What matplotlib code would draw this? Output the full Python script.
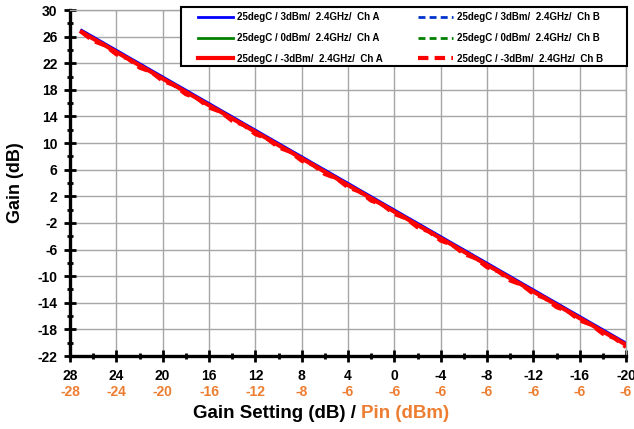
import matplotlib.pyplot as plt
from matplotlib.patches import Rectangle

plt.rcParams['font.family'] = ['Liberation Sans', 'DejaVu Sans']
plt.rcParams['font.weight'] = 'bold'
plt.rcParams['axes.unicode_minus'] = False

# gain setting (dB), 1 dB steps
gain_setting = [27, 26, 25, 24, 23, 22, 21, 20, 19, 18, 17, 16, 15, 14, 13, 12,
                11, 10, 9, 8, 7, 6, 5, 4, 3, 2, 1, 0, -1, -2, -3, -4, -5, -6,
                -7, -8, -9, -10, -11, -12, -13, -14, -15, -16, -17, -18, -19, -20]

gain_3dbm_a = [26.95, 25.96, 24.95, 23.96, 22.95, 21.96, 20.95, 19.96, 18.95, 17.96,
               16.95, 15.96, 14.95, 13.96, 12.95, 11.96, 10.95, 9.96, 8.95, 7.96,
               6.95, 5.96, 4.95, 3.96, 2.95, 1.96, 0.95, -0.04, -1.05, -2.04,
               -3.05, -4.04, -5.05, -6.04, -7.05, -8.04, -9.05, -10.04, -11.05, -12.04,
               -13.05, -14.04, -15.05, -16.04, -17.05, -18.04, -19.05, -20.04]
gain_0dbm_a = [26.8, 25.8, 24.8, 23.8, 22.8, 21.8, 20.8, 19.8, 18.8, 17.8,
               16.8, 15.8, 14.8, 13.8, 12.8, 11.8, 10.8, 9.8, 8.8, 7.8,
               6.8, 5.8, 4.8, 3.8, 2.8, 1.8, 0.8, -0.2, -1.2, -2.2,
               -3.2, -4.2, -5.2, -6.2, -7.2, -8.2, -9.2, -10.2, -11.2, -12.2,
               -13.2, -14.2, -15.2, -16.2, -17.2, -18.2, -19.2, -20.2]
gain_m3dbm_a = [26.7, 25.68, 24.7, 23.68, 22.7, 21.68, 20.7, 19.68, 18.7, 17.68,
                16.7, 15.68, 14.7, 13.68, 12.7, 11.68, 10.7, 9.68, 8.7, 7.68,
                6.7, 5.68, 4.7, 3.68, 2.7, 1.68, 0.7, -0.32, -1.3, -2.32,
                -3.3, -4.32, -5.3, -6.32, -7.3, -8.32, -9.3, -10.32, -11.3, -12.32,
                -13.3, -14.32, -15.3, -16.32, -17.3, -18.32, -19.3, -20.32]
gain_3dbm_b = [26.85, 25.86, 24.85, 23.86, 22.85, 21.86, 20.85, 19.86, 18.85, 17.86,
               16.85, 15.86, 14.85, 13.86, 12.85, 11.86, 10.85, 9.86, 8.85, 7.86,
               6.85, 5.86, 4.85, 3.86, 2.85, 1.86, 0.85, -0.14, -1.15, -2.14,
               -3.15, -4.14, -5.15, -6.14, -7.15, -8.14, -9.15, -10.14, -11.15, -12.14,
               -13.15, -14.14, -15.15, -16.14, -17.15, -18.14, -19.15, -20.14]
gain_0dbm_b = [26.75, 25.75, 24.75, 23.75, 22.75, 21.75, 20.75, 19.75, 18.75, 17.75,
               16.75, 15.75, 14.75, 13.75, 12.75, 11.75, 10.75, 9.75, 8.75, 7.75,
               6.75, 5.75, 4.75, 3.75, 2.75, 1.75, 0.75, -0.25, -1.25, -2.25,
               -3.25, -4.25, -5.25, -6.25, -7.25, -8.25, -9.25, -10.25, -11.25, -12.25,
               -13.25, -14.25, -15.25, -16.25, -17.25, -18.25, -19.25, -20.25]
gain_m3dbm_b = [26.7, 25.35, 24.7, 23.35, 22.7, 21.35, 20.7, 19.35, 18.7, 17.35,
                16.7, 15.35, 14.7, 13.35, 12.7, 11.35, 10.7, 9.35, 8.7, 7.35,
                6.7, 5.35, 4.7, 3.35, 2.7, 1.35, 0.7, -0.65, -1.3, -2.65,
                -3.3, -4.65, -5.3, -6.65, -7.3, -8.65, -9.3, -10.65, -11.3, -12.65,
                -13.3, -14.65, -15.3, -16.65, -17.3, -18.65, -19.3, -20.65]

# axis ticks and bottom labels
setting_ticks = [28, 24, 20, 16, 12, 8, 4, 0, -4, -8, -12, -16, -20]
setting_minor = [26, 22, 18, 14, 10, 6, 2, -2, -6, -10, -14, -18]
pin_labels = ['-28', '-24', '-20', '-16', '-12', '-8', '-6', '-6', '-6', '-6', '-6', '-6', '-6']
gain_ticks = [30, 26, 22, 18, 14, 10, 6, 2, -2, -6, -10, -14, -18, -22]
gain_minor = [28, 24, 20, 16, 12, 8, 4, 0, -4, -8, -12, -16, -20]

ORANGE = '#ED7D31'

fig = plt.figure(figsize=(6.34, 4.29), dpi=100)
ax = fig.add_axes([70 / 634, 1 - 356 / 429, 556 / 634, 346 / 429])

# red traces sit on top, as in the original
ax.plot(gain_setting, gain_3dbm_a, color='#0000FF', lw=2, zorder=2.2,
        label='25degC / 3dBm/  2.4GHz/  Ch A')
ax.plot(gain_setting, gain_0dbm_a, color='#008000', lw=2, zorder=2.1,
        label='25degC / 0dBm/  2.4GHz/  Ch A')
ax.plot(gain_setting, gain_m3dbm_a, color='#FF0000', lw=3, zorder=3,
        label='25degC / -3dBm/  2.4GHz/  Ch A')
ax.plot(gain_setting, gain_3dbm_b, color='#0033CC', lw=2, ls=(0, (2.5, 1.5)), zorder=2.1,
        label='25degC / 3dBm/  2.4GHz/  Ch B')
ax.plot(gain_setting, gain_0dbm_b, color='#008000', lw=2, ls=(0, (2.5, 1.5)), zorder=2,
        label='25degC / 0dBm/  2.4GHz/  Ch B')
ax.plot(gain_setting, gain_m3dbm_b, color='#FF0000', lw=3, ls=(0, (2.5, 1.5)), zorder=3.1,
        label='25degC / -3dBm/  2.4GHz/  Ch B')

ax.set_xlim(28, -20)
ax.set_ylim(-22, 30)
ax.set_xticks(setting_ticks)
ax.set_xticks(setting_minor, minor=True)
ax.set_yticks(gain_ticks)
ax.set_yticks(gain_minor, minor=True)
ax.grid(True, which='major', color='#A6A6A6', lw=1)

for side in ['left', 'bottom']:
    ax.spines[side].set_linewidth(2.4)
for side in ['top', 'right']:
    ax.spines[side].set_color('#A6A6A6')
    ax.spines[side].set_linewidth(1)

ax.tick_params(which='major', direction='inout', length=8, width=2, labelsize=10)
ax.tick_params(which='minor', direction='inout', length=5, width=2)
ax.tick_params(axis='y', which='major', pad=5)
ax.tick_params(axis='x', which='major', pad=5)

# Pin (dBm) labels under the gain setting labels
for x, lab in zip(setting_ticks, pin_labels):
    ax.text(x, -0.104, lab, transform=ax.get_xaxis_transform(), color=ORANGE,
            fontsize=10, fontweight='bold', ha='center', va='center')

ax.set_ylabel('Gain (dB)', fontsize=13, fontweight='bold', labelpad=10)
ax.text(0.514, -0.165, 'Gain Setting (dB) /', transform=ax.transAxes, fontsize=13.5,
        fontweight='bold', ha='right', va='center')
ax.text(0.523, -0.165, 'Pin (dBm)', transform=ax.transAxes, fontsize=13.5,
        fontweight='bold', ha='left', va='center', color=ORANGE)

# legend box
ax.add_patch(Rectangle((0.2005, 0.838), 0.801, 0.1705, transform=ax.transAxes,
                       facecolor='white', edgecolor='black', lw=1.5,
                       clip_on=False, zorder=5))
leg = ax.legend(ncol=2, loc='upper left', bbox_to_anchor=(0.230, 0.843, 0.729, 0.15),
                mode='expand', fontsize=7, frameon=False,
                handlelength=3.6, handletextpad=0.4, labelspacing=1.1,
                borderaxespad=0, borderpad=0)
leg.set_zorder(6)

fig.savefig('out.png', dpi=100)
